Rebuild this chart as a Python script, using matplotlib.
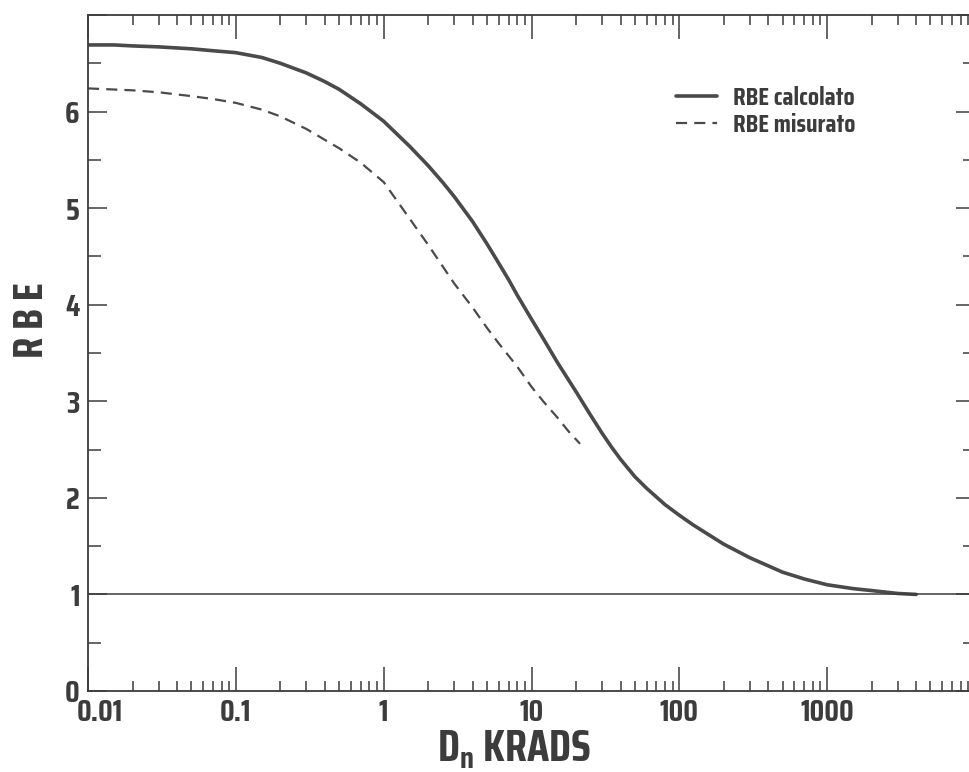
import numpy as np
import matplotlib
matplotlib.use("Agg")
import matplotlib.pyplot as plt
import matplotlib.transforms as mtransforms
from matplotlib.ticker import FixedLocator, NullFormatter

plt.rcParams['font.family'] = ['Saira Condensed', 'Saira ExtraCondensed', 'DejaVu Sans']
plt.rcParams['font.weight'] = 'bold'
plt.rcParams['mathtext.fontset'] = 'custom'
plt.rcParams['mathtext.rm'] = 'Saira Condensed:bold'

# RBE calcolato (curva continua)
dose_calc = [0.01, 0.015, 0.02, 0.03, 0.05, 0.07, 0.1, 0.15, 0.2, 0.3, 0.4, 0.5, 0.7, 1, 1.5, 2, 2.5,
             3, 4, 5, 6, 7, 8, 10, 12, 15, 20, 25, 30, 35, 40, 50, 60, 80, 100, 124, 150, 200, 300,
             500, 700, 1000, 1500, 2000, 3000, 4000]
rbe_calc = [6.69, 6.69, 6.68, 6.67, 6.65, 6.63, 6.61, 6.56, 6.50, 6.40, 6.31, 6.23, 6.08, 5.90, 5.64,
            5.44, 5.27, 5.12, 4.86, 4.63, 4.43, 4.26, 4.10, 3.85, 3.65, 3.40, 3.10, 2.86, 2.67, 2.52,
            2.40, 2.22, 2.10, 1.93, 1.82, 1.72, 1.64, 1.52, 1.38, 1.23, 1.16, 1.10, 1.06, 1.04, 1.01, 1.0]

# RBE misurato (curva tratteggiata)
dose_mis = [0.01, 0.02, 0.03, 0.05, 0.07, 0.1, 0.15, 0.2, 0.3, 0.5, 0.7, 1, 1.2, 1.5, 2, 2.5, 3, 4,
            5, 6, 8, 10, 12, 15, 18, 21.3]
rbe_mis = [6.24, 6.22, 6.20, 6.16, 6.13, 6.09, 6.02, 5.95, 5.82, 5.62, 5.47, 5.27, 5.10, 4.89, 4.62,
           4.40, 4.22, 3.97, 3.76, 3.60, 3.36, 3.15, 3.00, 2.83, 2.68, 2.56]

x_major = [0.01, 0.1, 1, 10, 100, 1000, 10000]
x_labels = ['0.01', '0.1', '1', '10', '100', '1000', '']
y_major = [0, 1, 2, 3, 4, 5, 6, 7]
y_labels = ['0', '1', '2', '3', '4', '5', '6', '']

ink = '#3c3c3c'

fig = plt.figure(figsize=(9.69, 7.72), dpi=100)
ax = fig.add_axes([88 / 969, 81 / 772, 887 / 969, 676 / 772])

ax.plot(dose_calc, rbe_calc, color='#4a4a4a', lw=2.6, solid_capstyle='round', label='RBE calcolato')
ax.plot(dose_mis, rbe_mis, color='#4a4a4a', lw=1.6, dashes=(5, 3.2), label='RBE misurato')
ax.axhline(1, color=ink, lw=1.1)

ax.set_xscale('log')
ax.set_xlim(0.01, 10000)
ax.set_ylim(0, 7)

ax.xaxis.set_major_locator(FixedLocator(x_major))
ax.set_xticklabels(x_labels)
ax.xaxis.set_minor_locator(FixedLocator([m * 10.0 ** e for e in range(-2, 4) for m in range(2, 10)]))
ax.xaxis.set_minor_formatter(NullFormatter())
ax.yaxis.set_major_locator(FixedLocator(y_major))
ax.set_yticklabels(y_labels)
ax.yaxis.set_minor_locator(FixedLocator(np.arange(0.5, 7, 1.0)))

ax.tick_params(axis='x', which='major', direction='in', length=17, width=1.1, top=True,
               labelsize=22, pad=5, colors=ink)
ax.tick_params(axis='x', which='minor', direction='in', length=7, width=1.1, top=True, colors=ink)
ax.tick_params(axis='y', which='major', direction='in', length=14, width=1.1, right=True,
               labelsize=22, pad=6, colors=ink)
ax.tick_params(axis='y', which='minor', direction='in', length=9, width=1.1, right=True, colors=ink)
for s in ax.spines.values():
    s.set_color(ink)
    s.set_linewidth(1.3)

# "0.01" sta a destra della sua tacca, come nell'originale
first = ax.get_xticklabels()[0]
first.set_transform(first.get_transform() + mtransforms.ScaledTranslation(12 / 100, 0, fig.dpi_scale_trans))

fig.text(514 / 969, 1 - 750 / 772, r'D$_\mathregular{n}$ KRADS', ha='center', va='center',
         fontsize=32, color=ink)
fig.text(31 / 969, 1 - 320 / 772, 'R B E', ha='center', va='center', rotation=90,
         fontsize=31, color=ink)

leg = ax.legend(loc='upper left', bbox_to_anchor=(676 / 969, 1 - 86 / 772),
                bbox_transform=fig.transFigure, frameon=False, fontsize=18.5,
                handlelength=1.6, handletextpad=0.6, labelspacing=0.1, borderpad=0,
                borderaxespad=0)
for t in leg.get_texts():
    t.set_color(ink)

fig.savefig('out.png', dpi=100)
